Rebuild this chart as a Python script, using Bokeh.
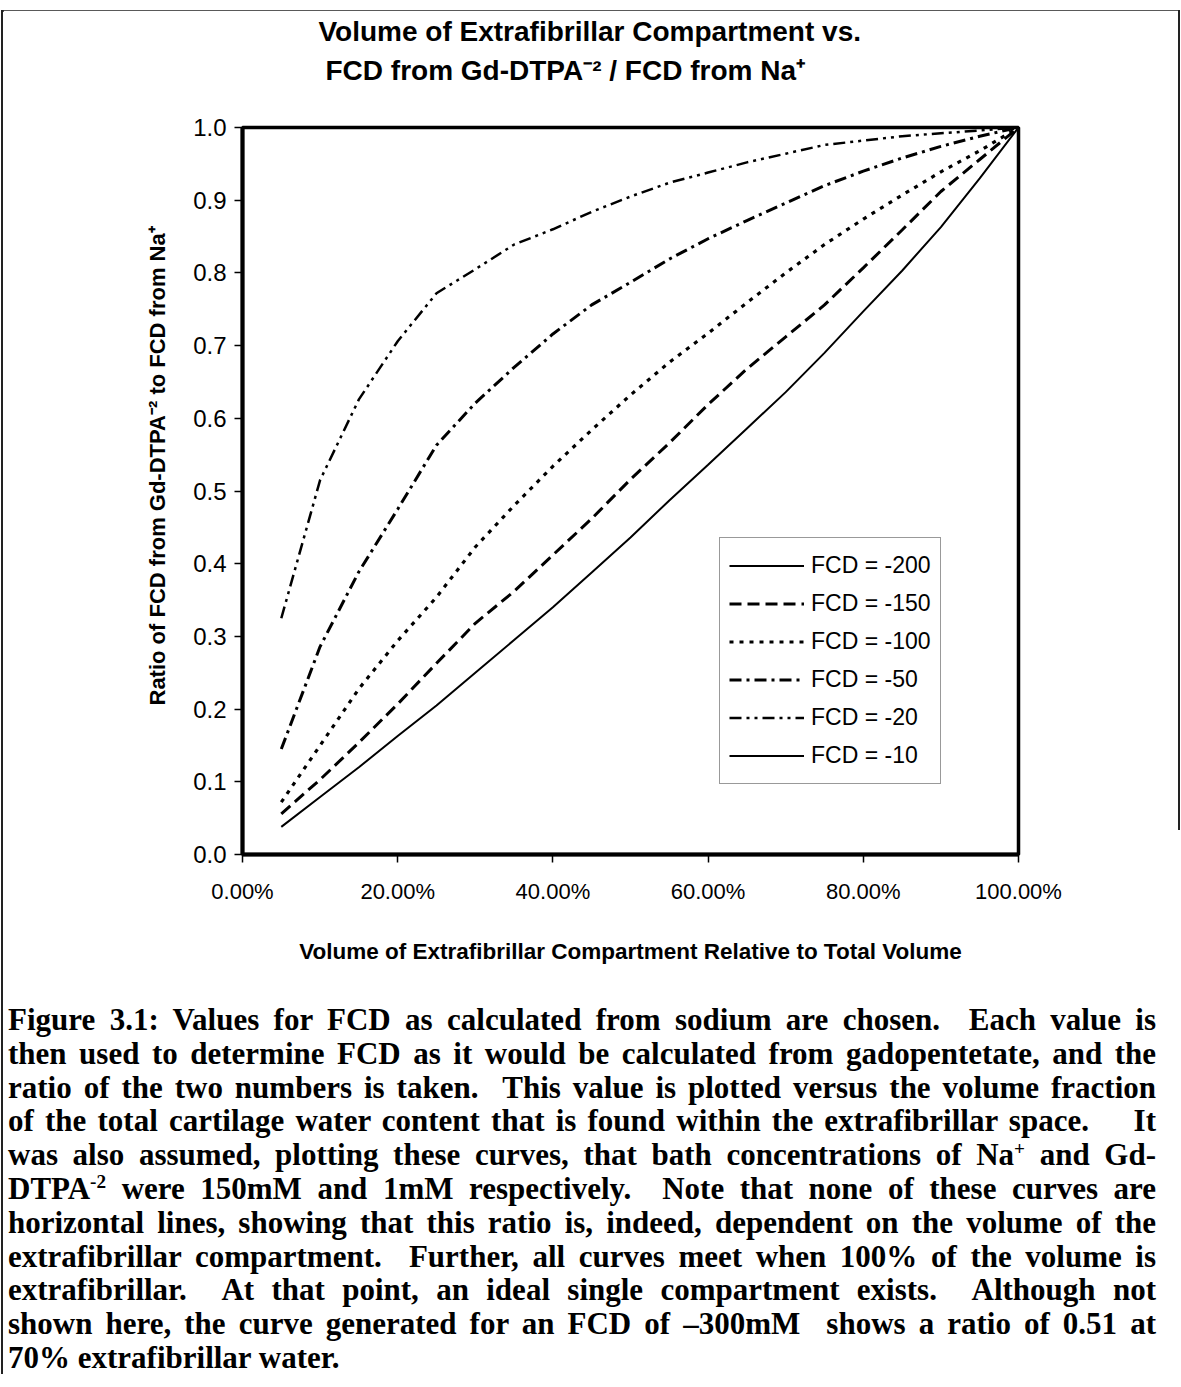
from bokeh.plotting import figure
from bokeh.models import (Legend, LegendItem, FixedTicker, NumeralTickFormatter,
                          Title, Div, Range1d)
from bokeh.layouts import column, row
from bokeh.embed import file_html
from bokeh.resources import INLINE

NAN = float("nan")

# Fraction of tissue water that sits in the extrafibrillar compartment
volume_fraction = [0.05, 0.10, 0.15, 0.20, 0.25, 0.30, 0.35, 0.40, 0.45, 0.50,
                   0.55, 0.60, 0.65, 0.70, 0.75, 0.80, 0.85, 0.90, 0.95, 1.00]

# Ratio FCD(Gd-DTPA) / FCD(Na) for each sodium-derived FCD (mM)
ratio_fcd_200 = [0.038, 0.079, 0.120, 0.163, 0.205, 0.250, 0.295, 0.340, 0.388, 0.436,
                 0.487, 0.536, 0.586, 0.636, 0.690, 0.747, 0.803, 0.863, 0.930, 1.000]
ratio_fcd_150 = [0.056, 0.103, 0.154, 0.207, 0.263, 0.318, 0.362, 0.412, 0.462, 0.516,
                 0.566, 0.619, 0.668, 0.712, 0.756, 0.807, 0.859, 0.912, 0.956, 1.000]
ratio_fcd_100 = [0.072, 0.150, 0.228, 0.294, 0.354, 0.423, 0.480, 0.534, 0.584, 0.632,
                 0.677, 0.717, 0.759, 0.800, 0.839, 0.874, 0.907, 0.939, 0.968, 1.000]
ratio_fcd_50 = [0.145, 0.286, 0.389, 0.475, 0.563, 0.621, 0.670, 0.716, 0.756, 0.787,
                0.819, 0.847, 0.872, 0.896, 0.920, 0.940, 0.958, 0.974, 0.988, 1.000]
ratio_fcd_20 = [0.325, 0.515, 0.626, 0.706, 0.772, 0.805, 0.839, 0.860, 0.884, 0.905,
                0.924, 0.938, 0.952, 0.964, 0.976, 0.982, 0.988, 0.992, 0.996, 1.000]
# the -10 mM curve runs above the 1.0 axis limit: no point of it is inside the chart
ratio_fcd_10 = [NAN, NAN, NAN, NAN, NAN, NAN, NAN, NAN, NAN, NAN,
                NAN, NAN, NAN, NAN, NAN, NAN, NAN, NAN, NAN, NAN]

series_labels = ["FCD = -200", "FCD = -150", "FCD = -100", "FCD = -50", "FCD = -20", "FCD = -10"]

x_ticks = [0.0, 0.2, 0.4, 0.6, 0.8, 1.0]
y_ticks = [0.0, 0.1, 0.2, 0.3, 0.4, 0.5, 0.6, 0.7, 0.8, 0.9, 1.0]

SUP = "<sup style='font-size:0.62em;line-height:0;vertical-align:baseline;position:relative;top:-0.55em'>"
caption_lines = [
    "Figure 3.1: Values for FCD as calculated from sodium are chosen. &nbsp;Each value is",
    "then used to determine FCD as it would be calculated from gadopentetate, and the",
    "ratio of the two numbers is taken. &nbsp;This value is plotted versus the volume fraction",
    "of the total cartilage water content that is found within the extrafibrillar space. &nbsp; &nbsp;It",
    f"was also assumed, plotting these curves, that bath concentrations of Na{SUP}+</sup> and Gd-",
    f"DTPA{SUP}-2</sup> were 150mM and 1mM respectively. &nbsp;Note that none of these curves are",
    "horizontal lines, showing that this ratio is, indeed, dependent on the volume of the",
    "extrafibrillar compartment. &nbsp;Further, all curves meet when 100% of the volume is",
    "extrafibrillar. &nbsp;At that point, an ideal single compartment exists. &nbsp;Although not",
    "shown here, the curve generated for an FCD of \u2013300mM &nbsp;shows a ratio of 0.51 at",
    "70% extrafibrillar water.",
]

SANS = "Liberation Sans"
RULE = "#222"

p = figure(width=1175, height=980,
           x_range=Range1d(0, 1), y_range=Range1d(0, 1),
           output_backend="svg", toolbar_location=None, title_location=None,
           min_border_left=239, min_border_right=160,
           min_border_top=115, min_border_bottom=136,
           background_fill_color="white", border_fill_color="white")

p.xgrid.visible = False
p.ygrid.visible = False
p.outline_line_color = "black"
p.outline_line_width = 3.5

for ax in (p.xaxis[0], p.yaxis[0]):
    ax.axis_line_width = 4
    ax.axis_line_color = "black"
    ax.major_tick_in = 0
    ax.major_tick_out = 8
    ax.major_tick_line_width = 1.5
    ax.minor_tick_line_color = None
    ax.major_label_text_font = SANS
    ax.major_label_text_color = "black"
    ax.axis_label_text_font = SANS
    ax.axis_label_text_font_style = "bold"
    ax.axis_label_text_color = "black"

p.xaxis.ticker = FixedTicker(ticks=x_ticks)
p.xaxis.formatter = NumeralTickFormatter(format="0.00%")
p.xaxis.major_label_text_font_size = "22px"
p.xaxis.major_label_standoff = 16
p.xaxis.axis_label = "Volume of Extrafibrillar Compartment Relative to Total Volume"
p.xaxis.axis_label_text_font_size = "22.5px"
p.xaxis.axis_label_standoff = 32

p.yaxis.ticker = FixedTicker(ticks=y_ticks)
p.yaxis.formatter = NumeralTickFormatter(format="0.0")
p.yaxis.major_label_text_font_size = "24px"
p.yaxis.major_label_standoff = 8

# y-axis caption set as a side title so it can sit a little above the frame's middle
p.add_layout(Title(text="Ratio of FCD from Gd-DTPA\u207b\u00b2 to FCD from Na\u207a",
                   align="left", offset=149, standoff=42,
                   text_font=SANS, text_font_size="22px", text_font_style="bold",
                   text_color="black"), "left")

# two-line chart title; the line nearest the frame is added first
p.add_layout(Title(text="FCD from Gd-DTPA\u207b\u00b2 / FCD from Na\u207a", align="left",
                   text_font=SANS, text_font_size="28px", text_font_style="bold",
                   text_color="black", offset=83, standoff=84), "above")
p.add_layout(Title(text="Volume of Extrafibrillar Compartment vs.", align="left",
                   text_font=SANS, text_font_size="28px", text_font_style="bold",
                   text_color="black", offset=76, standoff=-72), "above")

series_y = [ratio_fcd_200, ratio_fcd_150, ratio_fcd_100, ratio_fcd_50, ratio_fcd_20, ratio_fcd_10]
dashes = ["solid", "12 6", "4 6", "12 5 3 5", "12 5 3 5 3 5", "solid"]
widths = [2.0, 3.0, 3.2, 3.0, 2.5, 2.0]

items = []
for label, ys, dash, w in zip(series_labels, series_y, dashes, widths):
    r = p.line(volume_fraction, ys, line_color="black", line_width=w, line_dash=dash)
    items.append(LegendItem(label=label, renderers=[r]))

legend = Legend(items=items, location=(477, 70),
                label_text_font=SANS, label_text_font_size="23px", label_text_color="black",
                glyph_width=75, glyph_height=37, label_height=37, label_standoff=7,
                padding=9, spacing=1, margin=0,
                border_line_color="#333", border_line_width=1.5,
                background_fill_color="white", background_fill_alpha=1.0)
p.add_layout(legend)

# page frame: rule along the top, and rules down both sides of the chart
top_rule = Div(width=1181, height=10, margin=0,
               text=f"<div style='margin:7px 0 0 1px;width:1179px;height:2px;background:{RULE}'></div>")
left_rule = Div(width=3, height=980, margin=0,
                text=f"<div style='margin-left:1px;width:2px;height:980px;background:{RULE}'></div>")
right_rule = Div(width=3, height=980, margin=0,
                 text=f"<div style='margin-left:0px;width:2px;height:820px;background:{RULE}'></div>")

line_style = "text-align:justify;text-align-last:justify;"
body = "".join(f"<div style='{line_style}'>{t}</div>" for t in caption_lines[:-1])
body += f"<div>{caption_lines[-1]}</div>"
caption_html = (
    f"<div style=\"margin-left:1px;border-left:2px solid {RULE};padding:13px 9px 0 5px;"
    "width:1164px;height:384px;font-family:'Liberation Serif';font-weight:bold;"
    "font-size:31px;line-height:33.8px;color:#000;\">" + body + "</div>"
)
caption = Div(text=caption_html, width=1181, height=397, margin=0)

layout = column(top_rule, row(left_rule, p, right_rule, spacing=0), caption, spacing=0)

with open("out.html", "w") as f:
    f.write(file_html(layout, INLINE))
